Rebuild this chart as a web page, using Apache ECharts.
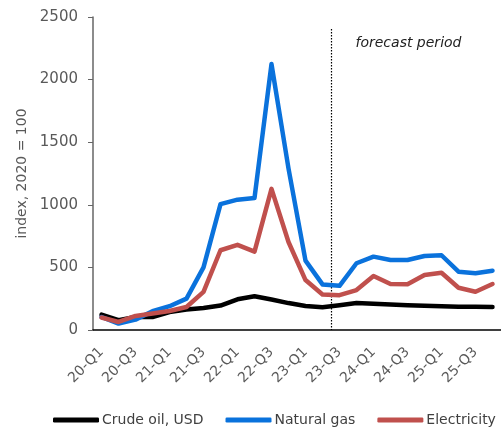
<!DOCTYPE html>
<html>
<head>
<meta charset="utf-8">
<script src="https://cdn.jsdelivr.net/npm/echarts@6/dist/echarts.min.js"></script>
<style>
  html, body { margin: 0; padding: 0; background: #fff; }
  #chart { width: 501px; height: 427px; }
</style>
</head>
<body>
<div id="chart"></div>
<script>
// quarters 20-Q1 .. 25-Q4
var quarters = ['20-Q1', '20-Q2', '20-Q3', '20-Q4', '21-Q1', '21-Q2', '21-Q3', '21-Q4',
  '22-Q1', '22-Q2', '22-Q3', '22-Q4', '23-Q1', '23-Q2', '23-Q3', '23-Q4',
  '24-Q1', '24-Q2', '24-Q3', '24-Q4', '25-Q1', '25-Q2', '25-Q3', '25-Q4']

var crudeOil = [123, 78, 104, 104, 144, 163, 176, 195, 245, 270, 244, 215, 192, 182, 198, 215,
  210, 204, 198, 193, 190, 186, 185, 183]
var naturalGas = [104, 51, 83, 150, 190, 251, 500, 1005, 1041, 1054, 2124, 1290, 554, 364, 353, 533,
  586, 559, 559, 591, 597, 466, 453, 474]
var electricity = [100, 64, 112, 131, 152, 184, 305, 637, 680, 626, 1127, 703, 399, 284, 278, 319,
  431, 367, 365, 439, 457, 337, 305, 367]

var yTicks = [0, 500, 1000, 1500, 2000, 2500]
var forecastStart = '23-Q3'

var font = 'DejaVu Sans'
var chart = echarts.init(document.getElementById('chart'), null, { renderer: 'canvas' })

function lineSeries(name, data, color) {
  return {
    name: name,
    type: 'line',
    data: data,
    symbol: 'none',
    lineStyle: { color: color, width: 4.5, cap: 'round', join: 'round' },
    itemStyle: { color: color },
    animation: false
  }
}

chart.setOption({
  animation: false,
  textStyle: { fontFamily: font },
  grid: { left: 93, top: 17, width: 416, height: 313 },
  xAxis: {
    type: 'category',
    data: quarters,
    boundaryGap: true,
    axisLine: { lineStyle: { color: '#000', width: 1.5 } },
    axisTick: { alignWithLabel: false, interval: 0, length: 5, lineStyle: { color: '#000' } },
    axisLabel: { interval: 1, rotate: 45, margin: 20, fontSize: 14, color: '#595959', fontFamily: font }
  },
  yAxis: {
    type: 'value',
    min: yTicks[0],
    max: yTicks[yTicks.length - 1],
    interval: 500,
    name: 'index, 2020 = 100',
    nameLocation: 'middle',
    nameGap: 57,
    nameTextStyle: { fontSize: 14, color: '#595959', fontFamily: font },
    axisLine: { show: true, lineStyle: { color: '#666', width: 1.5 } },
    axisTick: { show: true, length: 5, lineStyle: { color: '#666' } },
    axisLabel: {
      fontSize: 15, color: '#595959', margin: 15, fontFamily: font,
      formatter: function (v) { return String(v) }
    },
    splitLine: { show: false }
  },
  legend: {
    left: 48,
    top: 408,
    itemWidth: 46,
    itemHeight: 5,
    itemGap: 22,
    icon: 'roundRect',
    textStyle: { fontSize: 14, color: '#404040', fontFamily: font, padding: [0, 0, 0, -2] },
    data: ['Crude oil, USD', 'Natural gas', 'Electricity']
  },
  series: [
    lineSeries('Crude oil, USD', crudeOil, '#000000'),
    lineSeries('Natural gas', naturalGas, '#0a72dc'),
    lineSeries('Electricity', electricity, '#c0504d')
  ]
})

// forecast divider sits on the boundary between 23-Q2 and 23-Q3
var idx = quarters.indexOf(forecastStart)
var xA = chart.convertToPixel({ xAxisIndex: 0 }, quarters[idx - 1])
var xB = chart.convertToPixel({ xAxisIndex: 0 }, quarters[idx])
var xDiv = Math.round((xA + xB) / 2) + 0.5
var yBottom = chart.convertToPixel({ yAxisIndex: 0 }, 0)
var yTop = chart.convertToPixel({ yAxisIndex: 0 }, 2405)

chart.setOption({
  graphic: [
    {
      type: 'line',
      shape: { x1: xDiv, y1: yTop, x2: xDiv, y2: yBottom },
      style: { stroke: '#000', lineWidth: 1.2, lineDash: [1.5, 1.5] },
      z: 1
    },
    {
      type: 'text',
      x: xDiv + 24,
      y: 43,
      style: {
        text: 'forecast period',
        font: 'italic 14px "DejaVu Sans"',
        fill: '#222',
        verticalAlign: 'middle'
      }
    }
  ]
})
</script>
</body>
</html>
